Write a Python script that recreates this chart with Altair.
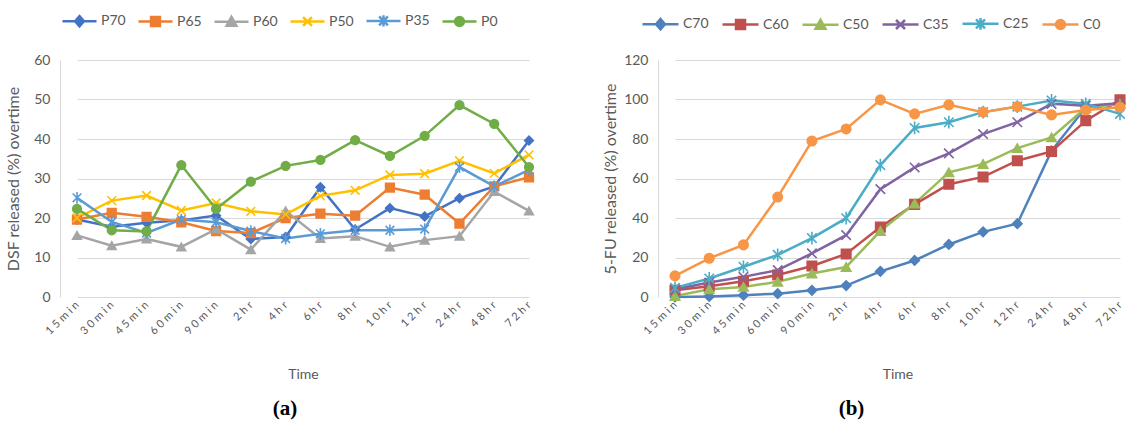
import altair as alt
import pandas as pd

# Sampling times shared by both release profiles
time_points = ["15min", "30min", "45min", "60min", "90min", "2hr", "4hr",
               "6hr", "8hr", "10hr", "12hr", "24hr", "48hr", "72hr"]

# (a) DSF release (%)
dsf_series = ["P70", "P65", "P60", "P50", "P35", "P0"]
p70 = [19.6, 17.8, 18.8, 19.4, 20.6, 14.7, 15.2, 27.8, 17.1, 22.5, 20.4, 25.0, 28.0, 39.6]
p65 = [19.6, 21.3, 20.3, 18.9, 16.7, 16.2, 20.0, 21.1, 20.6, 27.7, 25.9, 18.6, 28.0, 30.3]
p60 = [15.6, 13.0, 14.7, 12.7, 17.2, 12.0, 21.8, 14.8, 15.4, 12.7, 14.4, 15.4, 26.7, 21.8]
p50 = [20.0, 24.4, 25.7, 21.9, 23.8, 21.7, 20.9, 25.6, 27.0, 30.9, 31.2, 34.5, 31.3, 36.0]
p35 = [25.1, 19.0, 16.2, 19.6, 18.9, 16.7, 14.8, 16.0, 16.9, 16.9, 17.2, 32.9, 28.0, 32.2]
p0 = [22.3, 16.9, 16.6, 33.4, 22.3, 29.2, 33.2, 34.7, 39.7, 35.7, 40.8, 48.6, 43.8, 32.9]
dsf_values = [p70, p65, p60, p50, p35, p0]

# (b) 5-FU release (%)
fu_series = ["C70", "C60", "C50", "C35", "C25", "C0"]
c70 = [0.0, 0.3, 0.9, 1.7, 3.4, 5.8, 13.0, 18.5, 26.6, 33.0, 37.1, 74.0, 96.1, 98.1]
c60 = [3.4, 5.5, 8.0, 11.1, 15.7, 21.8, 35.4, 46.9, 57.1, 60.8, 69.0, 73.7, 89.3, 99.8]
c50 = [0.5, 3.9, 5.1, 7.7, 11.9, 15.2, 33.4, 47.3, 63.1, 67.3, 75.4, 80.8, 95.8, 97.8]
c35 = [3.9, 7.3, 10.2, 13.6, 22.1, 31.3, 54.6, 65.6, 72.7, 82.5, 88.5, 97.8, 96.9, 98.1]
c25 = [4.6, 9.4, 15.3, 21.3, 29.8, 39.9, 66.8, 85.6, 88.5, 93.6, 96.4, 99.5, 97.8, 92.7]
c0 = [10.7, 19.6, 26.4, 50.6, 79.0, 85.1, 99.8, 92.7, 97.3, 93.6, 96.4, 92.2, 94.7, 96.1]
fu_values = [c70, c60, c50, c35, c25, c0]

# Styling
dsf_colors = ["#4472C4", "#ED7D31", "#A5A5A5", "#FFC000", "#5B9BD5", "#70AD47"]
fu_colors = ["#4F81BD", "#C0504D", "#9BBB59", "#8064A2", "#4BACC6", "#F79646"]
marker_kinds = ["diamond", "square", "triangle", "x", "star", "circle"]

FONT = "Lato"
TEXT_GREY = "#595959"
GRID_GREY = "#D9D9D9"

point_shapes = {
    "diamond": "diamond",
    "square": "square",
    "triangle": "triangle-up",
    "x": "M-1,-1L1,1M-1,1L1,-1",
    "star": "M-1,-1L1,1M-1,1L1,-1M0,-1.35L0,1.35",
    "circle": "circle",
}

# Legend swatches: a short line segment with the marker in its middle
# (unit coordinates, scaled by sqrt(symbolSize)/2)
def swatch(kind, m):
    line = "M-1,0L1,0"
    if kind == "diamond":
        mk = f"M0,{-m*1.15}L{m},0L0,{m*1.15}L{-m},0Z"
    elif kind == "square":
        mk = f"M{-m},{-m}L{m},{-m}L{m},{m}L{-m},{m}Z"
    elif kind == "triangle":
        mk = f"M0,{-m*1.1}L{m*1.1},{m*0.9}L{-m*1.1},{m*0.9}Z"
    elif kind == "x":
        mk = f"M{-m},{-m}L{m},{m}M{-m},{m}L{m},{-m}"
    elif kind == "star":
        mk = f"M{-m},{-m}L{m},{m}M{-m},{m}L{m},{-m}M0,{-m*1.3}L0,{m*1.3}"
    else:
        mk = f"M{m},0A{m},{m},0,1,1,{-m},0A{m},{m},0,1,1,{m},0Z"
    return line + mk


def lookup_expr(keys, vals):
    pairs = ",".join(f"'{k}':'{v}'" for k, v in zip(keys, vals))
    return "{" + pairs + "}[datum.value]"


def panel(series, values, colors, y_max, y_step, y_title, y_title_pad, width, x_range,
          legend_x, legend_y, sym_len, marker_r, col_pad, point_size, tag, tag_dx):
    rows = []
    for name, kind, vals in zip(series, marker_kinds, values):
        for t, v in zip(time_points, vals):
            rows.append({"time": t, "series": name, "marker": kind, "released": v})
    df = pd.DataFrame(rows)

    swatches = [swatch(k, marker_r) for k in marker_kinds]
    legend = alt.Legend(
        title=None, orient="none", direction="horizontal",
        legendX=legend_x, legendY=legend_y,
        symbolSize=sym_len * sym_len, symbolStrokeWidth=2.5,
        symbolType=alt.ExprRef(expr=lookup_expr(series, swatches)),
        symbolFillColor=alt.ExprRef(expr=lookup_expr(series, colors)),
        symbolStrokeColor=alt.ExprRef(expr=lookup_expr(series, colors)),
        labelFont=FONT, labelFontSize=14, labelColor=TEXT_GREY,
        labelOffset=3, columnPadding=col_pad,
    )

    x_enc = alt.X(
        "time:N", sort=time_points,
        scale=alt.Scale(type="point", range=x_range, padding=0),
        axis=alt.Axis(
            title="Time", titleFont=FONT, titleFontSize=14, titleFontWeight="normal",
            titleColor=TEXT_GREY, titlePadding=31,
            labelAngle=-45, labelAlign="right", labelBaseline="middle",
            labelFont=FONT, labelFontSize=11, labelColor=TEXT_GREY, labelPadding=6,
            labelExpr="join(split(datum.label, ''), ' ')",
            domain=False, ticks=False, grid=False,
        ),
    )
    y_enc = alt.Y(
        "released:Q",
        scale=alt.Scale(domain=[0, y_max], nice=False),
        axis=alt.Axis(
            title=y_title, titleFont=FONT, titleFontSize=16, titleFontWeight="normal",
            titleColor=TEXT_GREY, titlePadding=y_title_pad,
            values=list(range(0, y_max + 1, y_step)),
            labelFont=FONT, labelFontSize=14, labelColor=TEXT_GREY, labelPadding=10,
            grid=True, gridColor=GRID_GREY, gridWidth=1,
            domain=True, domainColor=GRID_GREY, ticks=False,
        ),
    )
    scale_c = alt.Scale(domain=series, range=colors)

    lines = alt.Chart(df).mark_line(strokeWidth=2.5).encode(
        x=x_enc, y=y_enc,
        color=alt.Color("series:N", sort=series, scale=scale_c, legend=legend),
    )
    points = alt.Chart(df).mark_point(filled=True, size=point_size, strokeWidth=1.6, opacity=1).encode(
        x=x_enc, y=y_enc,
        fill=alt.Fill("series:N", sort=series, scale=scale_c, legend=None),
        stroke=alt.Stroke("series:N", sort=series, scale=scale_c, legend=None),
        shape=alt.Shape("marker:N", sort=marker_kinds,
                        scale=alt.Scale(domain=marker_kinds,
                                        range=[point_shapes[k] for k in marker_kinds]),
                        legend=None),
    )
    return alt.layer(lines, points).properties(
        width=width, height=237,
        title=alt.TitleParams(tag, orient="bottom", anchor="middle", dx=tag_dx, offset=17,
                              font="Liberation Serif", fontSize=21, fontWeight="bold",
                              color="black"),
    )


left = panel(dsf_series, dsf_values, dsf_colors, 60, 10, "DSF released (%) overtime", 12,
             486, [17, 469], 1, -58, 34, 0.26, 7, 75, "(a)", -18)
right = panel(fu_series, fu_values, fu_colors, 120, 20, "5-FU released (%) overtime", 5,
              469, [17, 462], -17, -56, 36, 0.25, 8, 90, "(b)", -41)

chart = alt.hconcat(left, right, spacing=112, bounds="flush").resolve_scale(
    color="independent", fill="independent", stroke="independent", shape="independent",
    x="independent", y="independent",
).resolve_legend(color="independent").properties(
    padding={"left": 5, "top": 2, "right": 0, "bottom": 0},
    background="white",
).configure_view(stroke=None)

chart.save("out.html", embed_options={"renderer": "svg", "actions": False})
